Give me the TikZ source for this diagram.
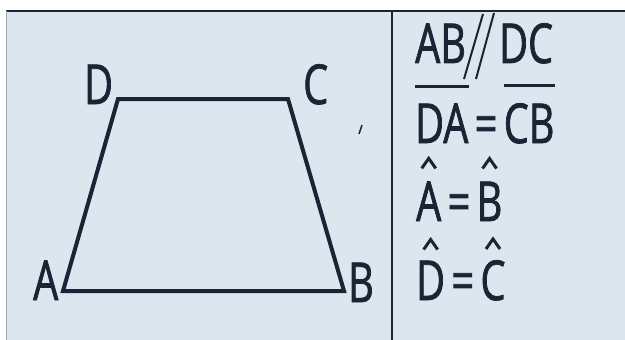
\documentclass[tikz,border=0pt]{standalone}
\usepackage{fontspec}
\setsansfont{Open Sans}[FakeStretch=0.72, FakeBold=1.3]
\usetikzlibrary{positioning}
\definecolor{cink}{HTML}{1C2334}
\definecolor{cpaper}{HTML}{DCE6EF}
\tikzset{
  every picture/.style={font=\sffamily, x=1pt, y=-1pt},
  lbl/.style={inner sep=0pt, font=\sffamily\fontsize{55}{55}\selectfont, text=cink},
  edge/.style={draw=cink, line width=4pt, line join=miter},
  bar/.style={draw=cink, line width=3pt},
  hat/.style={draw=cink, line width=3pt, line join=miter},
}
\begin{document}
\begin{tikzpicture}
  \useasboundingbox (0,0) rectangle (625,340);
  \fill[white] (0,0) rectangle (625,340);
  \fill[cpaper] (6,11) rectangle (625,340);
  \draw[cink, line width=2.5pt] (6,11) -- (625,11);
  \draw[cink!40, line width=1pt] (6,11) -- (6,340);
  \draw[cink, line width=2pt] (392,11) -- (392,340);
  % trapezoid
  \coordinate (A) at (63,291);
  \coordinate (B) at (344,291);
  \coordinate (C) at (288,99);
  \coordinate (D) at (118,99);
  \draw[edge] (A) -- (B) -- (C) -- (D) -- cycle;
  \node[lbl, anchor=base west] (lA) at (33,300) {A};
  \node[lbl, anchor=base west] (lB) at (348,302) {B};
  \node[lbl, anchor=base west] (lC) at (303,104) {C};
  \node[lbl, anchor=base west] (lD) at (84,104) {D};
  \draw[cink, line width=1.5pt] (359,134) -- (362,125);
  % properties
  \node[lbl, anchor=base west] (ab) at (415,63) {AB};
  \node[lbl, anchor=base west] (dc) at (499,63) {DC};
  \draw[bar, line width=2pt] (464,79) -- (483,14);
  \draw[bar, line width=2pt] (476,79) -- (494,13);
  \node[lbl, anchor=base west] (da) at (415,143) {DA};
  \node[lbl, base right=6pt of da] (eq1) {=};
  \node[lbl, base right=6pt of eq1] (cb) {CB};
  \draw[bar] ([yshift=17pt]da.north west) -- ([yshift=17pt]da.north east);
  \draw[bar] ([yshift=17pt]cb.north west) -- ([yshift=17pt]cb.north east);
  \node[lbl, anchor=base west] (a1) at (416,221) {A};
  \node[lbl, base right=6pt of a1] (eq2) {=};
  \node[lbl, base right=6pt of eq2] (b1) {B};
  \node[lbl, anchor=base west] (d1) at (416,300) {D};
  \node[lbl, base right=6pt of d1] (eq3) {=};
  \node[lbl, base right=6pt of eq3] (c1) {C};
  \foreach \n/\h in {a1/23, b1/23, d1/21, c1/21}
    \draw[hat] ([xshift=-7pt, yshift=\h pt - 10pt]\n.north) -- ([yshift=\h pt]\n.north)
      -- ([xshift=7pt, yshift=\h pt - 10pt]\n.north);
\end{tikzpicture}
\end{document}
